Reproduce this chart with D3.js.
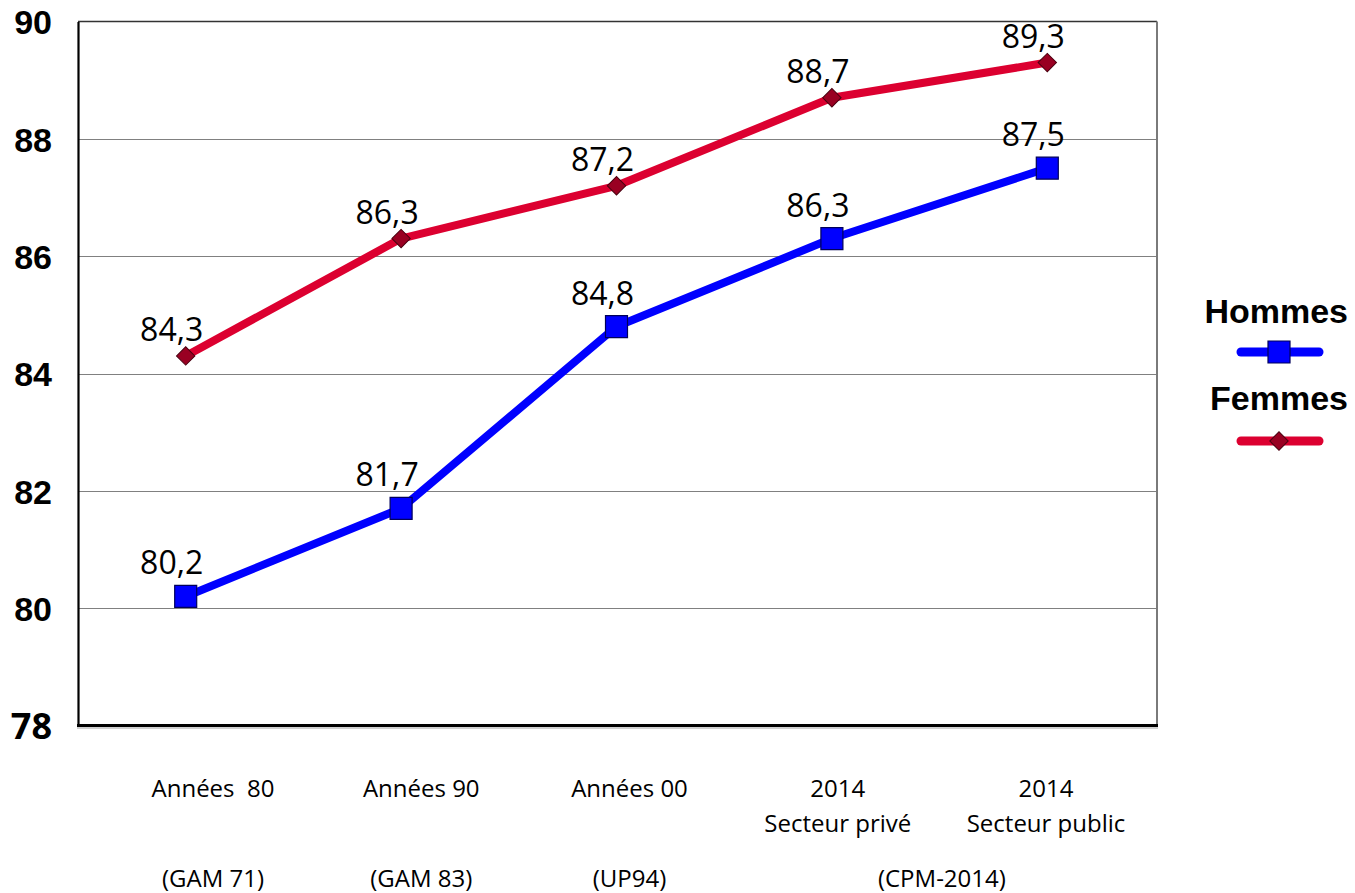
<!DOCTYPE html>
<html lang="fr">
<head>
<meta charset="utf-8">
<script src="https://cdn.jsdelivr.net/npm/d3@7"></script>
<style>
  html, body { margin: 0; padding: 0; background: #ffffff; }
  svg { display: block; }
  text { white-space: pre; }
</style>
</head>
<body>
<svg id="chart" width="1355" height="893"></svg>
<script>
// Catégories (deux lignes possibles par libellé)
const categories = ["Années  80", "Années 90", "Années 00", "2014 privé", "2014 public"];
const categoryLines = [
  ["Années  80"],
  ["Années 90"],
  ["Années 00"],
  ["2014", "Secteur privé"],
  ["2014", "Secteur public"]
];
// Sources (table de mortalité) couvrant une ou plusieurs catégories
const sourceLabels = ["(GAM 71)", "(GAM 83)", "(UP94)", "(CPM-2014)"];
const sourceFrom = [0, 1, 2, 3];
const sourceTo = [0, 1, 2, 4];

// Séries
const hommes = [80.2, 81.7, 84.8, 86.3, 87.5];
const femmes = [84.3, 86.3, 87.2, 88.7, 89.3];
const seriesNames = ["Hommes", "Femmes"];

// Axe vertical
const yTicks = [78, 80, 82, 84, 86, 88, 90];
const yDomain = [78, 90];

const svg = d3.select("#chart");

const plot = { left: 78, right: 1157, top: 21.5, bottom: 725.5 };

const x = d3.scaleBand().domain(categories).range([plot.left, 1155]);
const xc = c => x(c) + x.bandwidth() / 2;
const y = d3.scaleLinear().domain(yDomain).range([plot.bottom, plot.top]);
// Position des libellés de l'axe horizontal
const xLabel = d3.scalePoint().domain(categories).range([213, 1046]);

const fmt = v => d3.format(".1f")(v).replace(".", ",");

// Quadrillage
svg.append("g")
  .selectAll("line")
  .data(yTicks.filter(t => t > yDomain[0] && t < yDomain[1]))
  .join("line")
  .attr("x1", plot.left).attr("x2", plot.right)
  .attr("y1", d => Math.round(y(d)) + 0.5).attr("y2", d => Math.round(y(d)) + 0.5)
  .attr("stroke", "#808080").attr("stroke-width", 1.2);

// Cadre : haut et droite
svg.append("line")
  .attr("x1", plot.left).attr("x2", plot.right)
  .attr("y1", y(90)).attr("y2", y(90))
  .attr("stroke", "#333333").attr("stroke-width", 1.3);
svg.append("line")
  .attr("x1", plot.right).attr("x2", plot.right)
  .attr("y1", y(90)).attr("y2", plot.bottom)
  .attr("stroke", "#7a7a7a").attr("stroke-width", 2);

// Axe vertical
const yAxis = d3.axisLeft(y).tickValues(yTicks).tickSize(0).tickPadding(0).tickFormat(d3.format("d"));
const gy = svg.append("g").attr("transform", `translate(${plot.left},0)`).call(yAxis);
gy.select(".domain").attr("stroke", "#000").attr("stroke-width", 2.2);
gy.selectAll(".tick text")
  .attr("x", 52 - plot.left)
  .attr("dy", "0.36em")
  .attr("text-anchor", "end")
  .attr("fill", "#000")
  .style("font-family", d => d === 78 ? "'Open Sans', sans-serif" : "'Liberation Sans', Arial, sans-serif")
  .style("font-weight", "bold")
  .style("font-size", d => d === 78 ? "36px" : "34px");

// Axe horizontal (trait de base avec ombre légère)
svg.append("line")
  .attr("x1", plot.left - 1).attr("x2", plot.right + 1)
  .attr("y1", plot.bottom + 2.5).attr("y2", plot.bottom + 2.5)
  .attr("stroke", "#d0d0d0").attr("stroke-width", 2);
svg.append("line")
  .attr("x1", plot.left - 1).attr("x2", plot.right + 1)
  .attr("y1", plot.bottom).attr("y2", plot.bottom)
  .attr("stroke", "#000").attr("stroke-width", 3);

// Libellés des catégories
const xText = svg.append("g")
  .style("font-family", "'Open Sans', sans-serif")
  .style("font-size", "24px")
  .attr("fill", "#000")
  .attr("text-anchor", "middle");
categories.forEach((c, i) => {
  categoryLines[i].forEach((line, j) => {
    xText.append("text")
      .attr("x", xLabel(c))
      .attr("y", 797 + j * 35)
      .text(line);
  });
});
sourceLabels.forEach((s, i) => {
  const cx = (xLabel(categories[sourceFrom[i]]) + xLabel(categories[sourceTo[i]])) / 2;
  xText.append("text").attr("x", cx).attr("y", 887).text(s);
});

// Séries
const series = [
  { name: "Hommes", values: hommes, color: "#0000ff", marker: "square", fill: "#0000ff", stroke: "#00005a", labelDy: -22 },
  { name: "Femmes", values: femmes, color: "#dc0030", marker: "diamond", fill: "#990022", stroke: "#4a0010", labelDy: -15 }
];

const line = d3.line().x((d, i) => xc(categories[i])).y(d => y(d));

const squareSym = d3.symbol().type(d3.symbolSquare).size(22 * 22);
const diamondSym = d3.symbol().type(d3.symbolSquare).size(13 * 13);

function drawMarker(g, kind, s, cx, cy) {
  if (kind === "square") {
    g.append("path").attr("d", squareSym())
      .attr("transform", `translate(${cx},${cy})`)
      .attr("fill", s.fill).attr("stroke", s.stroke).attr("stroke-width", 1.2);
  } else {
    g.append("path").attr("d", diamondSym())
      .attr("transform", `translate(${cx},${cy}) rotate(45)`)
      .attr("fill", s.fill).attr("stroke", s.stroke).attr("stroke-width", 1);
  }
}

// Femmes dessinées d'abord, Hommes par-dessus
[series[1], series[0]].forEach(s => {
  const g = svg.append("g");
  g.append("path")
    .datum(s.values)
    .attr("d", line)
    .attr("fill", "none")
    .attr("stroke", s.color)
    .attr("stroke-width", 8)
    .attr("stroke-linejoin", "round");
  s.values.forEach((v, i) => drawMarker(g, s.marker, s, xc(categories[i]), y(v)));
});

// Étiquettes de valeurs
series.forEach(s => {
  svg.append("g")
    .selectAll("text")
    .data(s.values)
    .join("text")
    .attr("x", (d, i) => xc(categories[i]) - 14)
    .attr("y", d => y(d) + s.labelDy)
    .attr("text-anchor", "middle")
    .style("font-family", "'Open Sans', sans-serif")
    .style("font-size", "32px")
    .attr("fill", "#000")
    .text(d => fmt(d));
});

// Légende
const legend = svg.append("g");
const legendRows = [
  { s: series[0], textY: 323, lineY: 352 },
  { s: series[1], textY: 410, lineY: 441 }
];
legendRows.forEach(r => {
  legend.append("text")
    .attr("x", 1348).attr("y", r.textY)
    .attr("text-anchor", "end")
    .style("font-family", "'Liberation Sans', Arial, sans-serif")
    .style("font-weight", "bold")
    .style("font-size", "34px")
    .attr("fill", "#000")
    .text(r.s.name);
  legend.append("line")
    .attr("x1", 1241).attr("x2", 1319)
    .attr("y1", r.lineY).attr("y2", r.lineY)
    .attr("stroke", r.s.color).attr("stroke-width", 9)
    .attr("stroke-linecap", "round");
  drawMarker(legend, r.s.marker, r.s, 1279, r.lineY);
});
</script>
</body>
</html>
